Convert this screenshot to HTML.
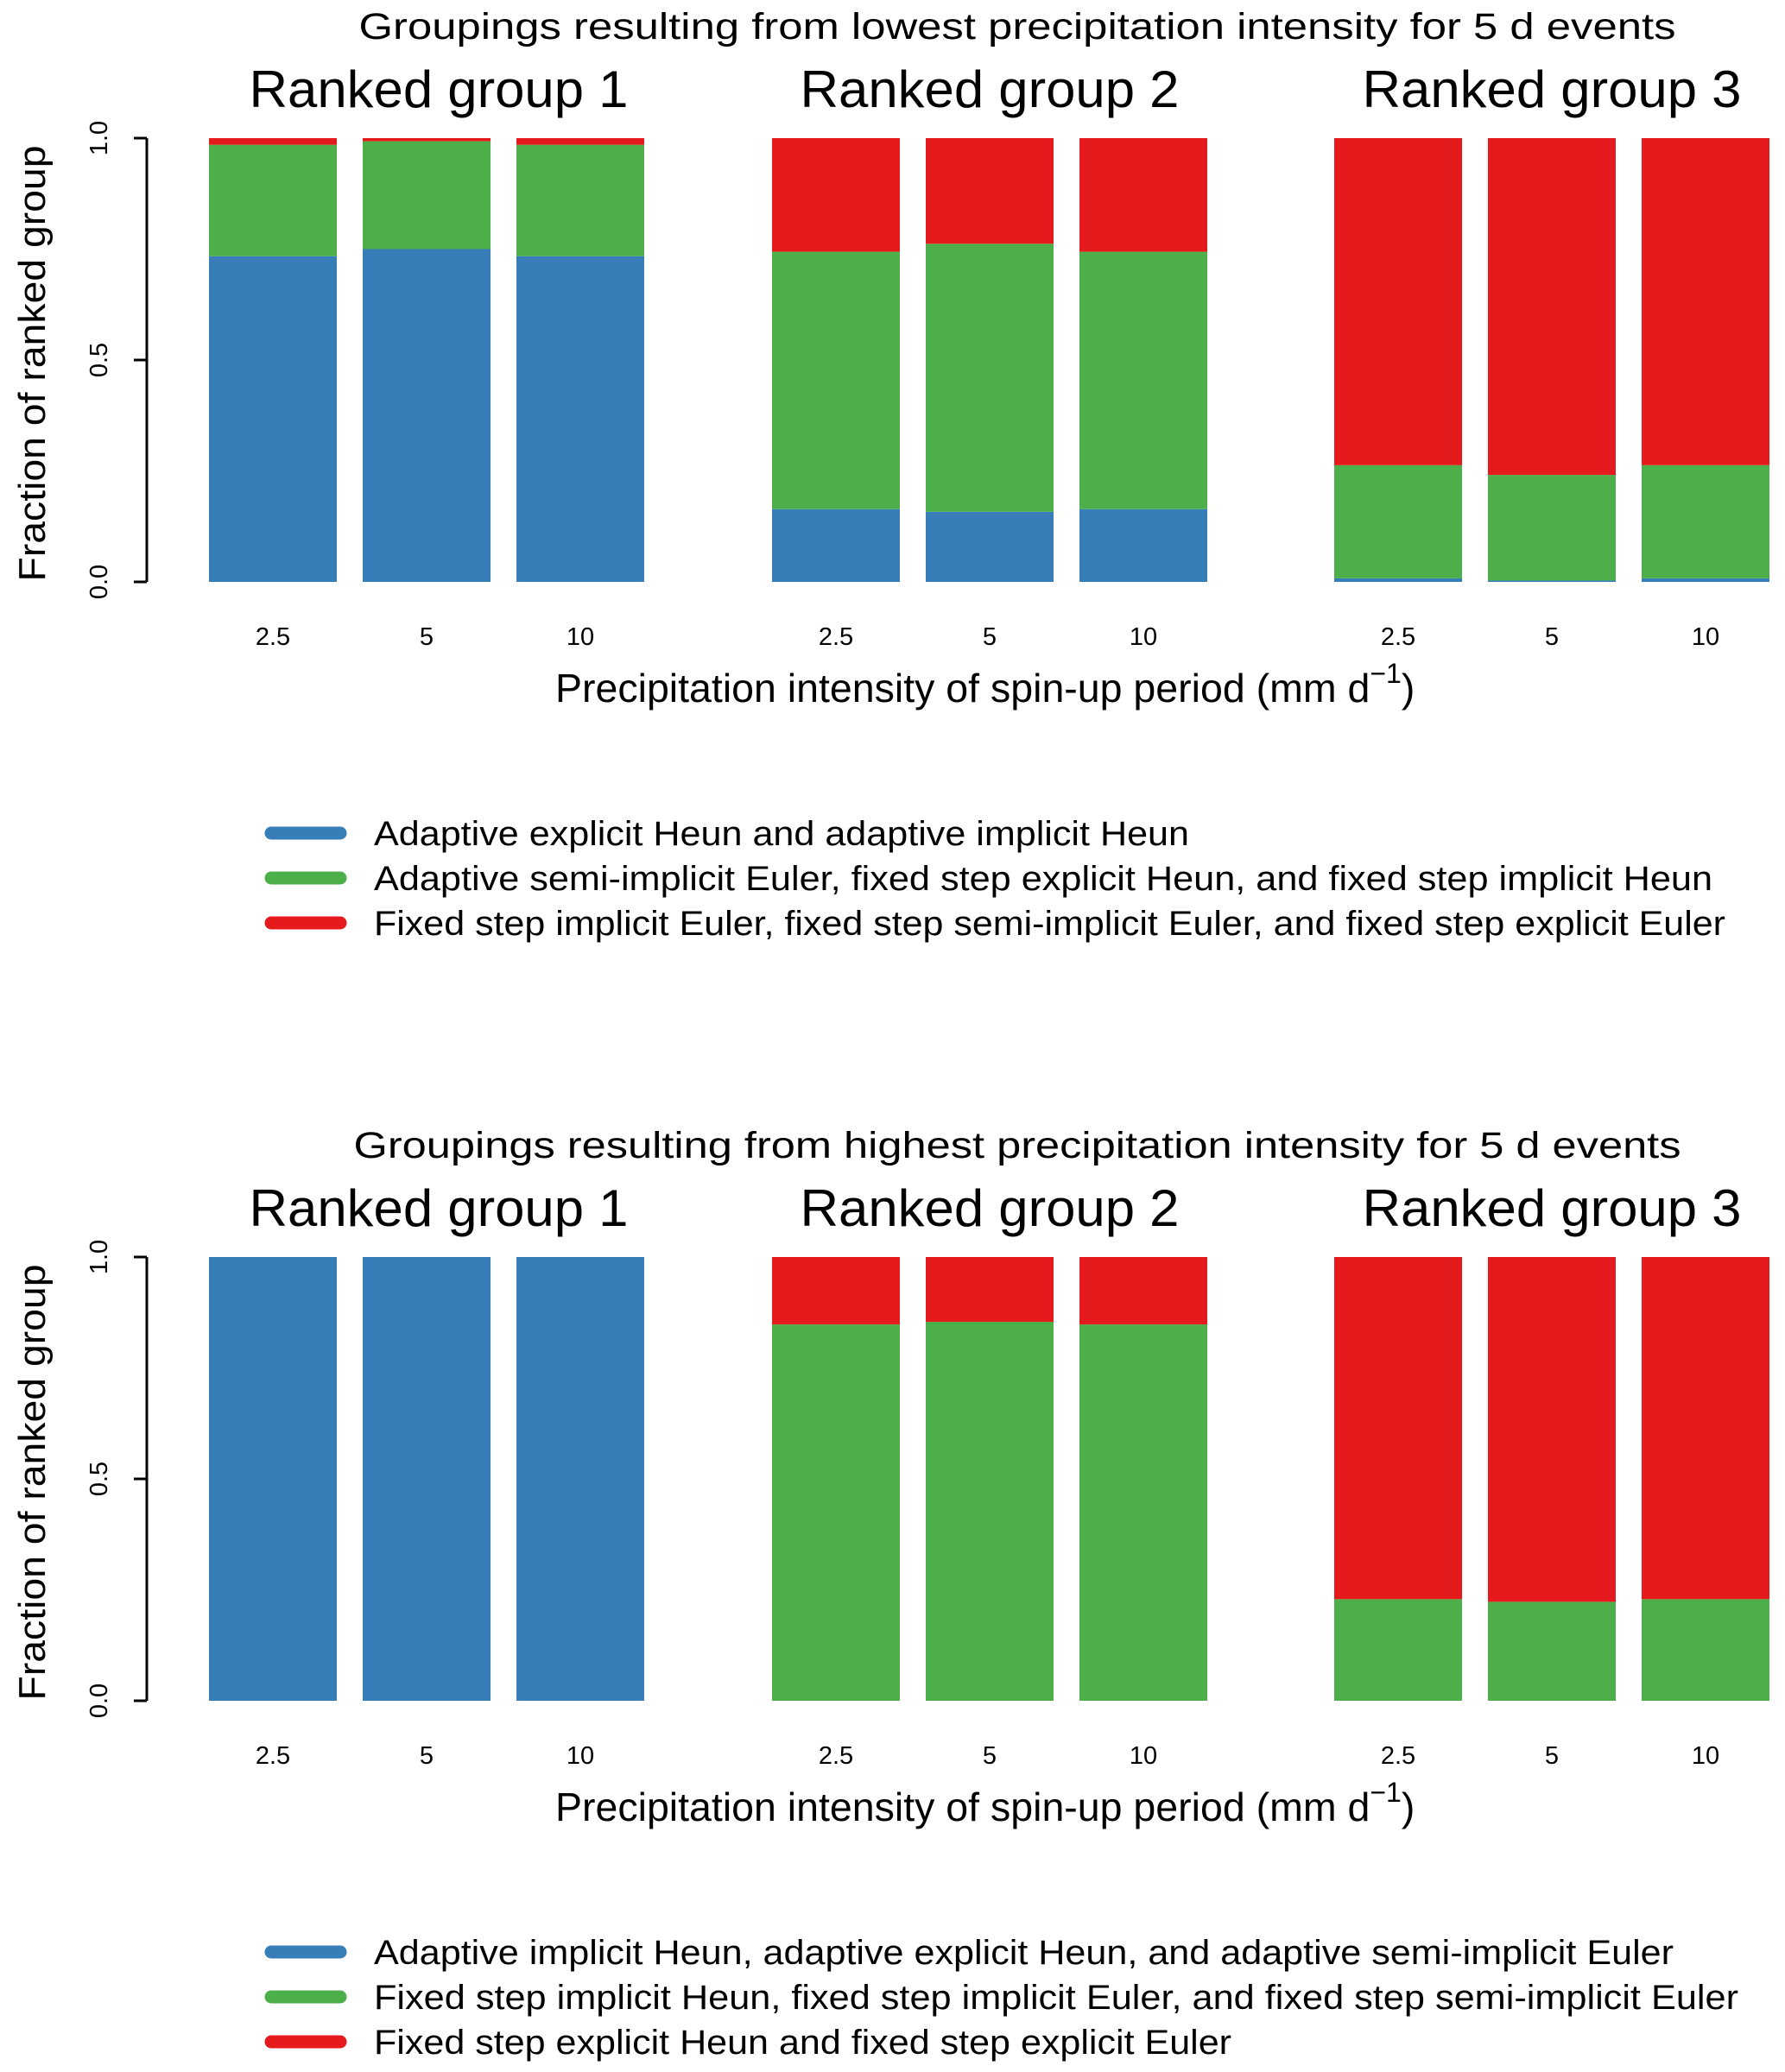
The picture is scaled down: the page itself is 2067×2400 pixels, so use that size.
<!DOCTYPE html>
<html><head><meta charset="utf-8"><style>
html,body{margin:0;padding:0;background:#fff}
svg{display:block}
text{font-family:"Liberation Sans",Arial,sans-serif;fill:#000}
</style></head><body>
<svg id="fig" width="2067" height="2400" viewBox="0 0 2067 2400" xmlns="http://www.w3.org/2000/svg"></svg>
<script>
// Data: cumulative fractions per bar (blue top, green top; red fills to 1)
const categories = ["2.5", "5", "10"];
const groupNames = ["Ranked group 1", "Ranked group 2", "Ranked group 3"];
const yTicks = [0, 0.5, 1];
const yTickLabels = ["0.0", "0.5", "1.0"];
// top panel: blue fraction, blue+green fraction
const topBlue = [[0.734, 0.750, 0.734], [0.164, 0.158, 0.164], [0.008, 0.003, 0.008]];
const topGreen = [[0.985, 0.993, 0.985], [0.744, 0.762, 0.744], [0.263, 0.241, 0.263]];
// bottom panel
const botBlue = [[1, 1, 1], [0, 0, 0], [0, 0, 0]];
const botGreen = [[1, 1, 1], [0.848, 0.854, 0.848], [0.229, 0.223, 0.229]];
const topLegend = ["Adaptive explicit Heun and adaptive implicit Heun",
  "Adaptive semi-implicit Euler, fixed step explicit Heun, and fixed step implicit Heun",
  "Fixed step implicit Euler, fixed step semi-implicit Euler, and fixed step explicit Euler"];
const botLegend = ["Adaptive implicit Heun, adaptive explicit Heun, and adaptive semi-implicit Euler",
  "Fixed step implicit Heun, fixed step implicit Euler, and fixed step semi-implicit Euler",
  "Fixed step explicit Heun and fixed step explicit Euler"];
const colors = ["#377EB8", "#4DAF4A", "#E41A1C"];

const NS = "http://www.w3.org/2000/svg";
const svg = document.getElementById("fig");
function mk(tag, attrs, parent, txt) {
  const e = document.createElementNS(NS, tag);
  for (const k in attrs) e.setAttribute(k, attrs[k]);
  if (txt !== undefined) e.textContent = txt;
  (parent || svg).appendChild(e);
  return e;
}
const groupX0 = [242, 894, 1545];
const titleShift = [14, 0, 0];
const barStep = 178, barW = 148;
function xBar(g, i) { return groupX0[g] + i * barStep; }

function panel(off, title, blue, green, legend, tlen, legLens) {
  const g = mk("g", {});
  
  
  const y0 = 674 + off, y1 = 160 + off;
  const yS = v => y0 - v * (y0 - y1);
  const t = mk("text", {x: 1178, y: 45 + off, "font-size": 43, "text-anchor": "middle", textLength: tlen, lengthAdjust: "spacingAndGlyphs"}, g, title);
  
  
  for (let k = 0; k < 3; k++) {
    const gt = mk("text", {x: groupX0[k] + barStep + barW / 2 + titleShift[k], y: 124 + off, "font-size": 60, "text-anchor": "middle", textLength: 439, lengthAdjust: "spacingAndGlyphs"}, g, groupNames[k]);
    
    
    for (let i = 0; i < 3; i++) {
      const x = xBar(k, i);
      const segs = [[0, blue[k][i], 0], [blue[k][i], green[k][i], 1], [green[k][i], 1, 2]];
      for (const s of segs) {
        if (s[1] - s[0] <= 0) continue;
        const r = mk("rect", {x: x, y: yS(s[1]), width: barW, height: yS(s[0]) - yS(s[1]), fill: colors[s[2]]}, g);
        
        
      }
      const xl = mk("text", {x: x + barW / 2, y: 747 + off, "font-size": 29, "text-anchor": "middle"}, g, categories[i]);
      
      
    }
  }
  const ax = mk("path", {d: `M170 ${y1}V${y0}`, stroke: "#000", "stroke-width": 3, fill: "none"}, g);
  
  
  yTicks.forEach((v, j) => {
    const tk = mk("path", {d: `M155 ${yS(v)}H170`, stroke: "#000", "stroke-width": 3}, g);
    
    
    const tl = mk("text", {x: 0, y: 0, "font-size": 29, "text-anchor": "middle", transform: `translate(124 ${yS(v)}) rotate(-90)`}, g, yTickLabels[j]);
    
    
  });
  const yl = mk("text", {x: 0, y: 0, "font-size": 44, "text-anchor": "middle", transform: `translate(52 ${(y0 + y1) / 2 + 4}) rotate(-90)`, textLength: 505, lengthAdjust: "spacingAndGlyphs"}, g, "Fraction of ranked group");
  
  
  const xt = mk("text", {x: 643, y: 813 + off, "font-size": 46.5}, g);
  
  
  mk("tspan", {}, xt, "Precipitation intensity of spin-up period (mm d");
  mk("tspan", {dy: -22, "font-size": 32}, xt, "\u22121");
  mk("tspan", {dy: 22}, xt, ")");
  legend.forEach((s, j) => {
    const yy = 965 + off + j * 52;
    const ln = mk("line", {x1: 314, x2: 394, y1: yy, y2: yy, stroke: colors[j], "stroke-width": 15, "stroke-linecap": "round"}, g);
    
    
    const lt = mk("text", {x: 433, y: yy + 14, "font-size": 40, textLength: legLens[j], lengthAdjust: "spacingAndGlyphs"}, g, s);
    
    
  });
}
panel(0, "Groupings resulting from lowest precipitation intensity for 5 d events", topBlue, topGreen, topLegend, 1525, [944, 1550, 1565]);
panel(1296, "Groupings resulting from highest precipitation intensity for 5 d events", botBlue, botGreen, botLegend, 1537, [1505, 1580, 993]);
</script>
</body></html>
